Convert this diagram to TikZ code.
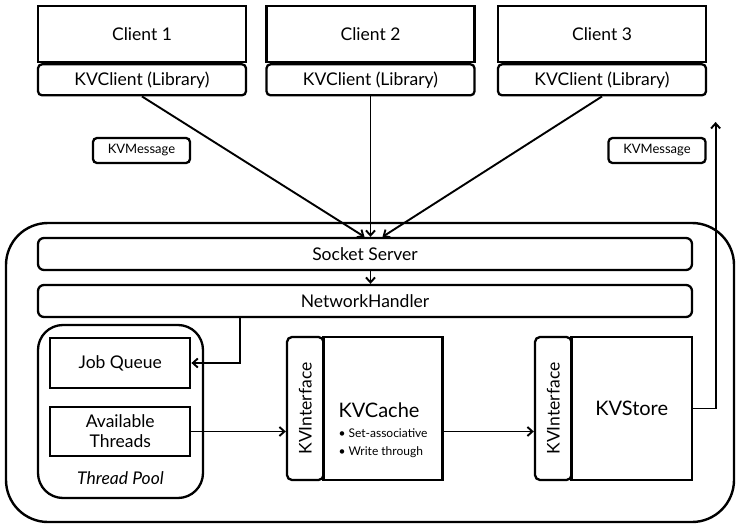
\documentclass[tikz,border=0pt]{standalone}
\usepackage{fontspec}
\setmainfont{Lato}
\usetikzlibrary{positioning,arrows.meta}

\begin{document}
\begin{tikzpicture}[x=1pt,y=-1pt,>={Straight Barb[length=5pt,width=9pt]},
	every node/.style={inner sep=0pt,font=\fontsize{17.5}{20}\selectfont},
	box/.style={draw,line width=2.3pt},
	clientbox/.style={box,minimum width=208,minimum height=56},
	libbox/.style={box,fill=white,rounded corners=4pt,minimum width=208,minimum height=31},
	msgbox/.style={box,rounded corners=4pt,minimum width=97,minimum height=25,font=\fontsize{13}{15}\selectfont},
	barbox/.style={box,rounded corners=6pt,minimum width=654,minimum height=32},
	ifbox/.style={box,rounded corners=5pt,rotate=90,minimum width=143,minimum height=36.5},
	compbox/.style={box,minimum height=143},
	wire/.style={line width=1.9pt}]
\useasboundingbox (0,0) rectangle (737,532);

% the clients on top
\foreach \i/\x in {1/142,2/370.5,3/602} {
	\node[clientbox] (client\i) at (\x,34) {Client \i};
	\node[libbox,below=0pt of client\i] (lib\i) {KVClient (Library)};
}

% messages
\node[msgbox] (msgin) at (141.5,150.5) {KVMessage};
\node[msgbox] (msgout) at (657,150.5) {KVMessage};

% the server
\node[box,line width=2.4pt,rounded corners=42pt,minimum width=728,minimum height=299] (server) at (370,372.5) {};
\node[barbox] (socket) at (365,254) {Socket Server};
\node[barbox] (network) at (365,301) {NetworkHandler};

% thread pool
\node[box,rounded corners=25pt,minimum width=165,minimum height=173] (pool) at (120.5,411.5) {};
\node[box,minimum width=140,minimum height=50] (jobq) at (120.25,363) {Job Queue};
\node[box,minimum width=140,minimum height=49,align=center] (avail) at (120.25,431.5) {Available\\Threads};
\node[font=\fontsize{17.5}{20}\selectfont\itshape] (poolname) at (120.5,478) {Thread Pool};

% cache and store
\node[ifbox] (kvif1) at (305.25,408.5) {KVInterface};
\node[compbox,minimum width=119,
	label={[align=left,yshift=-22pt,font=\fontsize{20}{21}\selectfont]center:{KVCache\\[-1pt]
		{\fontsize{12}{14}\selectfont\textbullet\ Set-associative}\\[-3pt]
		{\fontsize{12}{14}\selectfont\textbullet\ Write through}}}] (kvcache) at (383,408.5) {};
\node[ifbox] (kvif2) at (553.25,408.5) {KVInterface};
\node[compbox,minimum width=120.5,font=\fontsize{20}{22}\selectfont] (kvstore) at (631.75,408.5) {KVStore};

% connectors
\draw[wire,->] (lib1.south) -- ([xshift=-6pt]lib2.south |- socket.north);
\draw[wire,->] (lib2.south) -- (lib2.south |- socket.north);
\draw[wire,->] (lib3.south) -- ([xshift=12pt]lib2.south |- socket.north);
\draw[wire,->] (lib2.south |- socket.south) -- (lib2.south |- network.north);
\draw[wire,->] ([xshift=48.5pt]jobq.east |- network.south) |- (jobq.east);
\draw[wire,->] (avail.east) -- (avail.east -| kvif1.north);
\draw[wire,->] (avail.east -| kvcache.east) -- (avail.east -| kvif2.north);
\coordinate (reply) at (715.6,122);
\draw[wire,->] (kvstore.east) -| (reply);
\end{tikzpicture}
\end{document}
